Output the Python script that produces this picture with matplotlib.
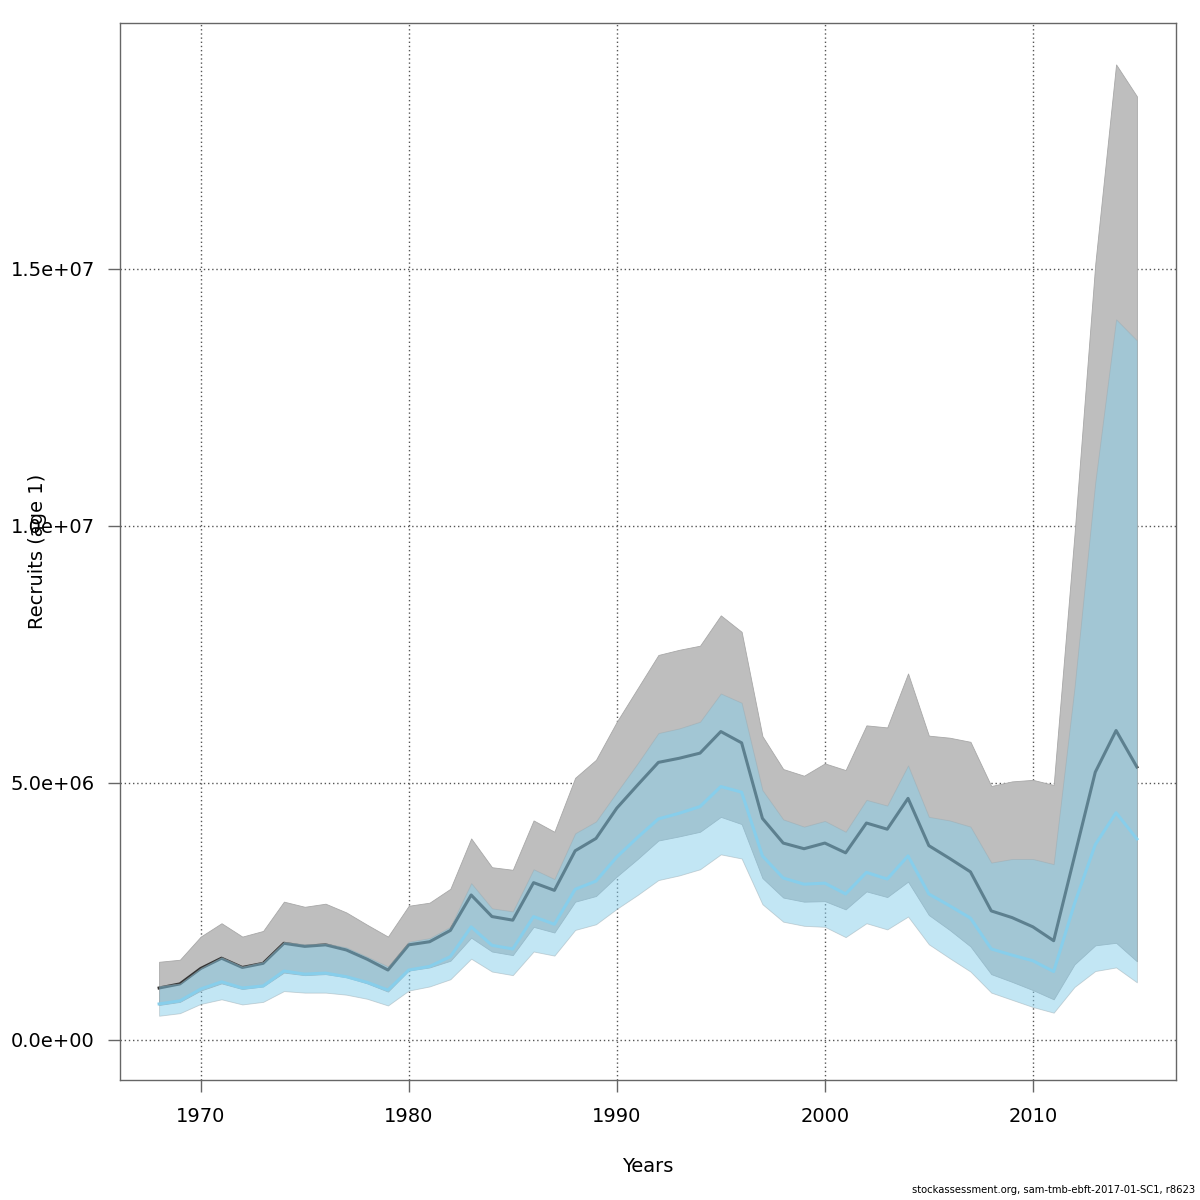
import matplotlib
matplotlib.use("Agg")
import matplotlib.pyplot as plt
import numpy as np

years = list(range(1968, 2016))

# Run A (grey band, dark line) - values in millions
a_upper = [1.52, 1.56, 2.01, 2.27, 2.01, 2.12, 2.69, 2.59, 2.65, 2.48, 2.24, 2.01,
           2.61, 2.67, 2.94, 3.92, 3.36, 3.31, 4.27, 4.05, 5.10, 5.45, 6.19, 6.84,
           7.49, 7.59, 7.67, 8.26, 7.94, 5.91, 5.27, 5.14, 5.38, 5.25, 6.12, 6.08,
           7.13, 5.92, 5.88, 5.80, 4.94, 5.03, 5.06, 4.96, 9.83, 15.10, 18.98, 18.36]
a_mid = [1.01, 1.09, 1.39, 1.59, 1.41, 1.49, 1.88, 1.82, 1.85, 1.75, 1.57, 1.36,
         1.85, 1.91, 2.13, 2.82, 2.40, 2.33, 3.06, 2.91, 3.68, 3.92, 4.51, 4.96,
         5.40, 5.48, 5.58, 6.00, 5.78, 4.31, 3.83, 3.72, 3.83, 3.64, 4.22, 4.10,
         4.70, 3.78, 3.53, 3.27, 2.51, 2.38, 2.20, 1.93, 3.57, 5.21, 6.02, 5.31]
a_lower = [0.68, 0.74, 0.96, 1.10, 0.99, 1.04, 1.31, 1.26, 1.28, 1.22, 1.10, 0.94,
           1.35, 1.41, 1.54, 1.99, 1.72, 1.65, 2.20, 2.09, 2.69, 2.80, 3.18, 3.52,
           3.88, 3.96, 4.05, 4.34, 4.20, 3.15, 2.77, 2.69, 2.70, 2.54, 2.89, 2.78,
           3.08, 2.43, 2.14, 1.82, 1.28, 1.13, 0.97, 0.79, 1.47, 1.84, 1.89, 1.53]

# Run B (light blue band, light blue line) - values in millions
b_upper = [1.05, 1.10, 1.40, 1.61, 1.43, 1.52, 1.91, 1.86, 1.88, 1.80, 1.62, 1.43,
           1.91, 1.98, 2.20, 3.05, 2.56, 2.50, 3.32, 3.13, 4.02, 4.25, 4.82, 5.38,
           5.97, 6.06, 6.19, 6.74, 6.56, 4.86, 4.29, 4.15, 4.26, 4.05, 4.67, 4.56,
           5.34, 4.34, 4.27, 4.15, 3.45, 3.52, 3.52, 3.42, 6.85, 10.85, 14.02, 13.61]
b_mid = [0.70, 0.76, 0.99, 1.13, 1.01, 1.05, 1.34, 1.28, 1.30, 1.23, 1.12, 0.97,
         1.36, 1.43, 1.62, 2.20, 1.84, 1.77, 2.40, 2.25, 2.93, 3.09, 3.56, 3.94,
         4.30, 4.41, 4.54, 4.93, 4.82, 3.58, 3.15, 3.03, 3.05, 2.84, 3.26, 3.13,
         3.58, 2.84, 2.61, 2.37, 1.77, 1.65, 1.54, 1.33, 2.65, 3.80, 4.42, 3.91]
b_lower = [0.47, 0.52, 0.70, 0.79, 0.69, 0.74, 0.95, 0.92, 0.92, 0.88, 0.80, 0.67,
           0.96, 1.04, 1.18, 1.58, 1.33, 1.26, 1.72, 1.64, 2.14, 2.25, 2.55, 2.82,
           3.11, 3.20, 3.32, 3.61, 3.53, 2.64, 2.30, 2.22, 2.20, 2.00, 2.27, 2.15,
           2.40, 1.86, 1.59, 1.33, 0.92, 0.78, 0.64, 0.53, 1.03, 1.34, 1.41, 1.12]

x_ticks = [1970, 1980, 1990, 2000, 2010]
y_ticks = [0, 5e6, 1e7, 1.5e7]
y_tick_labels = ["0.0e+00", "5.0e+06", "1.0e+07", "1.5e+07"]

scale = 1e6
yrs = np.array(years)
A_up, A_mid, A_lo = (np.array(v) * scale for v in (a_upper, a_mid, a_lower))
B_up, B_mid, B_lo = (np.array(v) * scale for v in (b_upper, b_mid, b_lower))

plt.rcParams['font.family'] = ['DejaVu Sans']
fig = plt.figure(figsize=(12, 12), dpi=100)
ax = fig.add_axes([0.1, 0.1, 0.88, 0.881])

grid_kw = dict(color='#555555', linestyle=(0, (1, 2)), linewidth=1.0, zorder=0)
for xt in x_ticks:
    ax.axvline(xt, **grid_kw)
for yt in y_ticks:
    ax.axhline(yt, **grid_kw)

ax.fill_between(yrs, A_lo, A_up, facecolor='#BEBEBE', edgecolor='#A8A8A8', linewidth=0.6, zorder=1)
ax.plot(yrs, A_mid, color='#333333', linewidth=2.2, zorder=2)
ax.fill_between(yrs, B_lo, B_up, facecolor='#87CEEB', alpha=0.5, edgecolor='#9AAAB0', linewidth=0.6, zorder=3)
ax.plot(yrs, B_mid, color='#87CEEB', linewidth=2.2, zorder=4)

ax.set_xlim(1966.12, 2016.88)
ax.set_ylim(-0.78e6, 19.79e6)

ax.set_xticks(x_ticks)
ax.set_xticklabels([str(v) for v in x_ticks])
ax.set_yticks(y_ticks)
ax.set_yticklabels(y_tick_labels)
ax.tick_params(axis='both', direction='out', length=8.5, width=1, color='#666666',
               labelsize=14, labelcolor='black')
ax.tick_params(axis='x', pad=11)
ax.tick_params(axis='y', pad=9.5)

for s in ax.spines.values():
    s.set_color('#666666')
    s.set_linewidth(1.0)

ax.set_xlabel("Years", fontsize=14, labelpad=22)
fig.text(0.031, 0.5404, "Recruits (age 1)", rotation=90, fontsize=14,
         ha='center', va='center')

fig.text(0.996, 0.004, "stockassessment.org, sam-tmb-ebft-2017-01-SC1, r8623",
         fontsize=7.2, ha='right', va='bottom')

fig.savefig("out.png", dpi=100)
